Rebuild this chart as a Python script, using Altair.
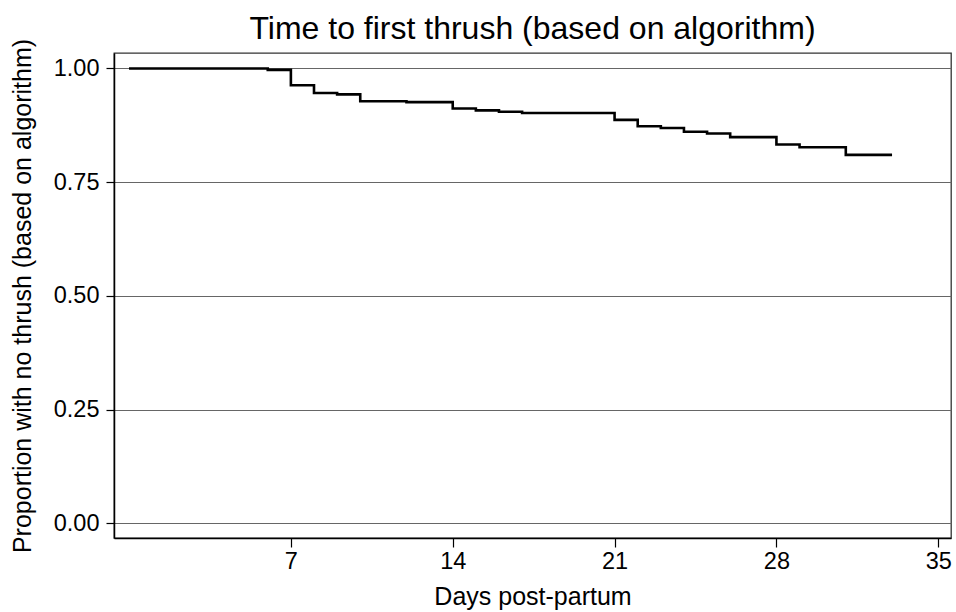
import altair as alt
import pandas as pd

# Kaplan-Meier estimate: proportion still free of thrush by day post-partum
days = [0, 6, 7, 8, 9, 10, 12, 14, 15, 16, 17, 21, 22, 23, 24, 25, 26, 28, 29, 31, 33]
surv = [1.0, 0.997, 0.963, 0.946, 0.943, 0.928, 0.926, 0.912, 0.908, 0.905, 0.902,
        0.887, 0.873, 0.869, 0.861, 0.857, 0.849, 0.833, 0.827, 0.810, 0.810]

x_ticks = [7, 14, 21, 28, 35]
y_ticks = [0.0, 0.25, 0.5, 0.75, 1.0]

df = pd.DataFrame({"day": days, "surv": surv})

FONT = "Liberation Sans"

chart = (
    alt.Chart(df)
    .mark_line(interpolate="step-after", color="black", strokeWidth=2.6)
    .encode(
        x=alt.X(
            "day:Q",
            scale=alt.Scale(domain=[-0.65, 35.55], nice=False, zero=False),
            axis=alt.Axis(
                values=x_ticks,
                title="Days post-partum",
                grid=False,
                tickSize=9,
                labelPadding=2,
                titlePadding=12,
            ),
        ),
        y=alt.Y(
            "surv:Q",
            scale=alt.Scale(domain=[-0.032, 1.034], nice=False, zero=False),
            axis=alt.Axis(
                values=y_ticks,
                format=".2f",
                title="Proportion with no thrush (based on algorithm)",
                grid=True,
                tickSize=8,
                labelPadding=7,
                titlePadding=18,
            ),
        ),
    )
    .properties(
        width=837,
        height=485,
        autosize=alt.AutoSizeParams(type="none"),
        padding={"left": 114, "top": 53, "right": 5, "bottom": 74},
        title=alt.TitleParams(
            "Time to first thrush (based on algorithm)",
            fontSize=32,
            fontWeight="normal",
            font=FONT,
            color="black",
            anchor="middle",
            frame="group",
            offset=-8,
        ),
    )
    .configure_view(stroke="#333", strokeWidth=1.3)
    .configure_axis(
        labelFont=FONT,
        titleFont=FONT,
        labelFontSize=23.5,
        titleFontSize=25,
        titleFontWeight="normal",
        labelColor="black",
        titleColor="black",
        domainColor="black",
        domainWidth=1.5,
        tickColor="black",
        tickWidth=1.2,
        gridColor="#666",
        gridWidth=1,
    )
)

chart.save("out.html", embed_options={"renderer": "svg", "actions": False})
